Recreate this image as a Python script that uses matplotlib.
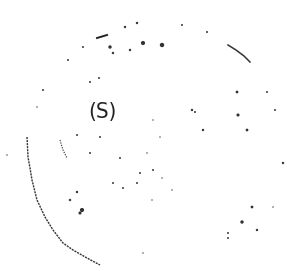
import matplotlib
matplotlib.use('Agg')
import matplotlib.pyplot as plt

# scanned sketch: faint circle with label (S), coordinates in image pixels
arc_left_x = [27, 28, 30, 32, 37, 45, 53, 63, 73, 87, 100]
arc_left_y = [137, 157, 168, 180, 200, 217, 230, 243, 250, 258, 265]
arc_right_x = [228, 236, 244, 250]
arc_right_y = [45, 50, 56, 62]
stroke_top_x = [97, 107]
stroke_top_y = [38, 35]
stroke_mid_x = [60, 63, 67]
stroke_mid_y = [140, 150, 158]

speck_x = [143, 162, 110, 125, 137, 130, 113, 83, 68, 182, 207, 43, 90, 99, 37,
           237, 267, 192, 238, 203, 247, 153, 160, 77, 100, 90, 120, 147, 140, 153,
           162, 137, 113, 123, 152, 172, 77, 70, 82, 80, 283, 252, 273, 242, 257,
           228, 228, 143, 7, 195, 275]
speck_y = [43, 45, 47, 27, 23, 50, 53, 47, 60, 25, 32, 90, 82, 78, 107,
           92, 92, 110, 115, 130, 130, 120, 137, 135, 137, 153, 158, 153, 173, 170,
           178, 183, 183, 188, 200, 190, 192, 200, 210, 213, 163, 207, 207, 222, 230,
           233, 238, 253, 155, 112, 110]
speck_size = [9, 10, 6, 3, 3, 3, 3, 2, 2, 2, 2, 2, 2, 2, 1,
              4, 2, 3, 5, 3, 4, 1, 1, 2, 2, 2, 2, 1, 2, 2,
              1, 2, 2, 2, 1, 1, 3, 3, 9, 5, 3, 4, 1, 6, 3,
              2, 2, 1, 1, 2, 2]

fig = plt.figure(figsize=(2.87, 2.71), dpi=100)
ax = fig.add_axes([0, 0, 1, 1])
ax.set_xlim(0, 287)
ax.set_ylim(271, 0)
ax.axis('off')

ax.plot(arc_left_x, arc_left_y, color='#333333', lw=1.0, ls=(0, (1.5, 0.7)))
ax.plot(arc_right_x, arc_right_y, color='#333333', lw=1.1)
ax.plot(stroke_top_x, stroke_top_y, color='#222222', lw=1.4)
ax.plot(stroke_mid_x, stroke_mid_y, color='#444444', lw=0.9, ls=(0, (1, 1)))
ax.scatter(speck_x, speck_y, s=speck_size, color='#333333', linewidths=0)

ax.text(102, 112, '(S)', fontsize=16, ha='center', va='center',
        color='#222222', fontstretch='condensed')

plt.savefig('out.png', dpi=100)
